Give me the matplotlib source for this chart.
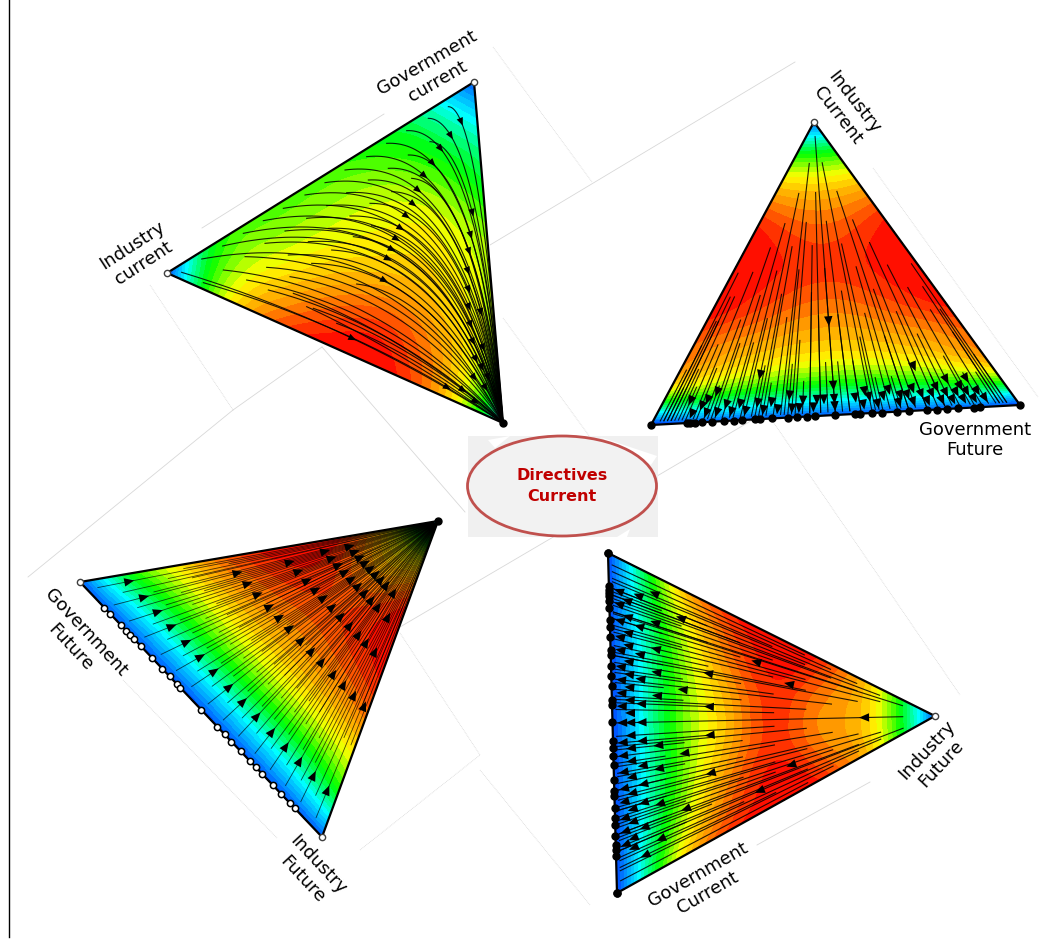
import matplotlib
matplotlib.use("Agg")
import matplotlib.pyplot as plt
import matplotlib.tri as mtri
import numpy as np
from matplotlib.colors import LinearSegmentedColormap
from matplotlib.patches import Ellipse, Polygon, Rectangle

# triangle corners in image pixels: base start, base end, apex
corners_tl = [(167, 273), (503, 423), (474, 82)]
corners_tr = [(651, 425), (1020, 405), (814, 122)]
corners_bl = [(80, 582), (322, 837), (438, 521)]
corners_br = [(608, 553), (617, 893), (935, 716)]

# field values, rows go from base to apex
field_tl = [[.12, .62, .82, .90, .88, .70, .28],
            [.50, .65, .76, .82, .74, .54],
            [.54, .63, .69, .69, .60],
            [.54, .62, .65, .60],
            [.50, .54, .50],
            [.40, .38],
            [.14]]
field_tr = [[.10, .14, .14, .14, .14, .14, .14, .14, .10],
            [.66, .60, .56, .54, .54, .56, .60, .66],
            [.80, .75, .72, .71, .72, .75, .80],
            [.89, .84, .80, .80, .84, .89],
            [.90, .87, .85, .87, .90],
            [.89, .83, .83, .89],
            [.76, .73, .76],
            [.54, .54],
            [.15]]
field_bl = [[.14, .14, .14, .14, .14, .14, .14, .14, .14],
            [.46, .42, .41, .41, .41, .41, .42, .46],
            [.64, .62, .62, .62, .62, .62, .64],
            [.78, .76, .75, .75, .76, .78],
            [.87, .84, .82, .84, .87],
            [.90, .84, .84, .90],
            [.85, .74, .85],
            [.64, .64],
            [.25]]
field_br = [[.12, .12, .12, .12, .12, .12, .12, .12, .12],
            [.48, .43, .40, .40, .40, .40, .43, .48],
            [.74, .65, .61, .60, .61, .65, .74],
            [.86, .80, .75, .75, .80, .86],
            [.90, .87, .85, .87, .90],
            [.88, .80, .79, .88],
            [.76, .73, .76],
            [.54, .54],
            [.14]]

# end dots along each base, as a fraction of the edge
dots_tr = [0, .097, .106, .12, .138, .165, .197, .224, .246, .282, .295, .327, .372, .395, .422, .445,
           .499, .553, .567, .598, .625, .666, .698, .747, .774, .801, .833, .874, .892, 1]
dots_bl = [.10, .124, .168, .192, .208, .223, .251, .299, .34, .37, .401, .415, .50, .568, .598, .626,
           .664, .701, .726, .751, .797, .832, .867, .888]
dots_br = [0, .096, .108, .118, .127, .142, .162, .196, .218, .247, .284, .299, .331, .363, .392, .431, .446,
           .498, .554, .574, .598, .623, .667, .701, .716, .75, .779, .799, .833, .858, .873, .892, 1]

# radial lines: (fraction from base towards apex where the line stops, base positions)
lines_tr = [(.95, [.50]),
            (.86, [.35, .60]),
            (.76, [.27, .46, .70]),
            (.66, [.21, .38, .54, .75]),
            (.58, [.16, .30, .43, .62, .80]),
            (.50, [.03, .11, .24, .36, .50, .67, .84, .97]),
            (.42, [.05, .07, .19, .29, .43, .57, .72, .88, .95]),
            (.34, [.04, .05, .14, .25, .33, .46, .54, .65, .78, .92, .96]),
            (.26, [.03, .09, .17, .22, .39, .61, .70, .82, .95]),
            (.18, [.02, .06, .12, .28, .37, .48, .52, .57, .75, .87, .97]),
            (.12, [.04, .08, .15, .31, .41, .63, .68, .80, .90, .94])]
lines_bl = [(.03, [.03, .10, .165, .23, .30, .365, .43, .50, .565, .63, .70, .765, .83, .895, .96]),
            (.08, [.065, .13, .20, .265, .335, .40, .465, .535, .60, .665, .73, .80, .865, .93]),
            (.155, [.09, .15, .22, .28, .35, .42, .48, .55, .62, .68, .75, .82, .88]),
            (.22, [.05, .12, .18, .25, .32, .38, .45, .52, .58, .65, .72, .78, .85, .91]),
            (.28, [.02, .07, .14, .21, .27, .34, .41, .47, .54, .60, .67, .74, .80, .94, .98]),
            (.40, [.04, .11, .19, .30, .44, .57, .70, .96])]
lines_br = [(.90, [.175, .50, .84]),
            (.83, [.12, .23, .76, .88]),
            (.76, [.08, .17, .30, .70, .83, .91]),
            (.68, [.05, .13, .37, .63, .79, .94]),
            (.60, [.03, .10, .21, .29, .43, .57, .72, .87, .97]),
            (.50, [.07, .15, .25, .35, .46, .54, .65, .75, .81, .93]),
            (.40, [.12, .19, .32, .40, .60, .68, .78, .90]),
            (.30, [.10, .17, .27, .44, .56, .73, .85]),
            (.22, [.14, .22, .34, .42, .58, .66, .80, .88]),
            (.16, [.11, .19, .30, .38, .62, .70, .76, .83])]

# arrowheads: (fraction from base towards apex, base positions)
arrows_tr = [(.32, [.50]), (.15, [.27, .76]), (.10, [.15, .50, .84, .90]),
             (.075, [.08, .13, .37, .59, .66, .73, .80, .87]),
             (.055, [.12, .19, .23, .28, .32, .41, .45, .47, .50, .56, .60, .64, .69, .71,
                     .75, .78, .82, .85, .88, .91]),
             (.03, [.10, .14, .17, .21, .25, .30, .34, .38, .40, .44, .50, .58, .62, .68,
                    .72, .76, .80, .83, .86, .89, .92])]
arrows_bl = [(.12, [.03, .10, .165, .23, .30, .365, .43, .50, .565, .63, .70, .765, .83, .895, .96]),
             (.40, [.10, .17, .24, .32, .39, .46, .54, .61, .68, .76, .83, .90, .97]),
             (.55, [.12, .20, .28, .36, .43, .51, .59, .67, .75, .82, .90]),
             (.66, [.11, .19, .27, .35, .43, .51, .59, .67, .75, .87]),
             (.73, [.13, .21, .29, .37, .45, .53, .61, .69, .80])]
arrows_br = [(.78, [.50]), (.55, [.27, .80]), (.45, [.19, .88]),
             (.30, [.30, .44, .56, .72]), (.22, [.11, .38, .62, .83]),
             (.14, [.06, .16, .25, .33, .41, .58, .66, .78, .90]),
             (.09, [.09, .19, .28, .36, .44, .50, .56, .64, .70, .76, .84, .93]),
             (.055, [.12, .17, .22, .26, .31, .35, .39, .43, .47, .50, .54, .58, .62, .67, .72,
                     .77, .81, .86, .89]),
             (.03, [.10, .14, .19, .24, .28, .33, .37, .41, .45, .50, .56, .60, .65, .70, .74,
                    .79, .83, .87])]

# curved flow in the top left triangle, read at 3x from the crop at (150, 60)
curve_x0 = [895, 835, 770, 710, 650, 585, 525, 465, 400, 340, 280, 218, 155,
            840, 775, 715, 655, 590, 530, 470, 405, 345, 285, 220, 160, 95,
            785, 725, 660, 600, 535, 475, 415, 350, 290,
            665, 610, 545, 485, 420, 355, 620, 490, 560, 430, 470]
curve_y0 = [140, 175, 212, 250, 290, 330, 368, 405, 445, 482, 520, 558, 597,
            245, 285, 325, 360, 398, 437, 475, 513, 550, 590, 630, 668, 637,
            355, 395, 430, 468, 505, 545, 585, 622, 660,
            497, 530, 570, 610, 650, 690, 672, 745, 790, 700, 740]
curve_cx = [985, 985, 985, 985, 975, 965, 950, 930, 915, 900, 880, 860, 800,
            985, 980, 975, 960, 950, 930, 910, 890, 860, 790, 700, 650, 600,
            970, 960, 950, 930, 905, 880, 850, 790, 730,
            930, 910, 880, 850, 790, 740, 850, 790, 800, 760, 750]
curve_cy = [140, 175, 200, 235, 255, 280, 305, 330, 355, 375, 395, 410, 480,
            250, 280, 310, 345, 375, 400, 430, 460, 500, 600, 680, 810, 790,
            370, 400, 430, 460, 490, 520, 560, 650, 740,
            540, 565, 590, 620, 710, 790, 700, 850, 880, 820, 870]
# where the arrowhead sits on each curve, -1 means the curve has none
curve_arrow_t = [.22, .24, .26, .28, .30, .33, .36, .38, .40, .42, .44, .46, .50,
                 .50, .55, .58, .62, .66, .70, .74, .78, .82, .85, -1, .80, .52,
                 -1, .72, -1, .80, -1, .84, -1, -1, -1,
                 -1, .86, -1, .88, -1, -1, -1, .78, .84, -1, -1]

# faint leftovers of the ternary axes behind the triangles
guide_lines = [[(795, 62), (490, 245)], [(384, 114), (202, 228)], [(233, 410), (322, 347)],
               [(28, 577), (233, 410)], [(322, 347), (465, 512)], [(400, 627), (795, 395)],
               [(870, 782), (757, 845)]]
guide_dots = [[(493, 47), (592, 182)], [(873, 168), (1038, 397)], [(150, 285), (233, 410)],
              [(503, 318), (590, 437)], [(123, 680), (277, 838)], [(360, 850), (480, 755)],
              [(400, 633), (480, 755)], [(765, 410), (960, 695)], [(480, 770), (590, 905)]]

labels = ["Government\ncurrent", "Industry\ncurrent", "Industry\nCurrent", "Government\nFuture",
          "Government\nFuture", "Industry\nFuture", "Industry\nFuture", "Government\nCurrent"]
label_x = [432, 138, 846, 975, 78, 310, 934, 703]
label_y = [72, 254, 109, 440, 640, 872, 757, 884]
label_rot = [30, 33, -52, 0, -47, -47, 47, 30]

# rainbow with a pure green middle, as in the reference
field_cmap = LinearSegmentedColormap.from_list(
    "field", [(0, "#0000ff"), (.12, "#0040ff"), (.33, "#00ffff"), (.5, "#00ff00"), (.65, "#ffff00"),
              (.77, "#ff9000"), (.9, "#ff0000"), (1, "#ff0000")])

fig = plt.figure(figsize=(10.42, 9.40), dpi=100)
ax = fig.add_axes([0, 0, 1, 1])
ax.set_xlim(0, 1042)
ax.set_ylim(940, 0)
ax.axis("off")


def draw_field(corners, rows):
    p0, p1, p2 = [np.array(c, dtype=float) for c in corners]
    n = len(rows) - 1
    px, py, z = [], [], []
    for r, row in enumerate(rows):
        for j, v in enumerate(row):
            b = (n - r - j) / n * p0 + j / n * p1 + r / n * p2
            px.append(b[0])
            py.append(b[1])
            z.append(v)
    tri = mtri.Triangulation(px, py)
    rt, rz = mtri.UniformTriRefiner(tri).refine_field(np.array(z), subdiv=3)
    ax.tricontourf(rt, np.clip(rz, .11, .89), levels=np.linspace(.1, .9, 27), cmap=field_cmap,
                   vmin=0, vmax=1, zorder=2)
    ax.add_patch(Polygon(corners, closed=True, fill=False, ec="black", lw=1.6, zorder=6))


def arrow_head(p, d, size=10, width=4.2):
    d = d / np.hypot(*d)
    n = np.array([-d[1], d[0]])
    ax.add_patch(Polygon([p + d * size / 2, p - d * size / 2 + n * width, p - d * size / 2 - n * width],
                         closed=True, fc="black", ec="none", zorder=5))


def draw_radial(corners, lines, arrows, to_apex, lw=.8, alpha=.85):
    p0, p1, p2 = [np.array(c, dtype=float) for c in corners]
    for s, ts in lines:
        for t in ts:
            b = p0 + t * (p1 - p0)
            a = b + s * (p2 - b)
            tip = b + (p2 - b) * (.985 if to_apex else .012)
            ax.plot([a[0], tip[0]], [a[1], tip[1]], color="black", lw=lw, alpha=alpha, zorder=4)
    for f, ts in arrows:
        for t in ts:
            b = p0 + t * (p1 - p0)
            arrow_head(b + f * (p2 - b), (p2 - b) if to_apex else (b - p2))


for seg in guide_lines:
    ax.plot(*zip(*seg), color="#d8d8d8", lw=.6, zorder=1)
for seg in guide_dots:
    ax.plot(*zip(*seg), color="#d8d8d8", lw=.6, ls=(0, (1, 1)), zorder=1)
ax.plot([8.5, 8.5], [0, 937], color="black", lw=1, zorder=1)

draw_field(corners_tl, field_tl)
draw_field(corners_tr, field_tr)
draw_field(corners_bl, field_bl)
draw_field(corners_br, field_br)

# curved streamlines, all ending in the bottom right corner of the first triangle
end = np.array(corners_tl[1], dtype=float)
u = np.linspace(0, 1, 60)[:, None]
for x0, y0, cx, cy, at in zip(curve_x0, curve_y0, curve_cx, curve_cy, curve_arrow_t):
    p = np.array([150 + x0 / 3, 60 + y0 / 3])
    c = np.array([150 + cx / 3, 60 + cy / 3])
    xy = (1 - u) ** 2 * p + 2 * u * (1 - u) * c + u ** 2 * end
    ax.plot(xy[:, 0], xy[:, 1], color="black", lw=.8, alpha=.85, zorder=4)
    if at > 0:
        q = (1 - at) ** 2 * p + 2 * at * (1 - at) * c + at ** 2 * end
        arrow_head(q, 2 * (1 - at) * (c - p) + 2 * at * (end - c), size=8, width=3.3)

draw_radial(corners_tr, lines_tr, arrows_tr, False)
draw_radial(corners_bl, lines_bl, arrows_bl, True, lw=.6, alpha=.7)
draw_radial(corners_br, lines_br, arrows_br, False)

# end dots
for corners, dots in [(corners_tr, dots_tr), (corners_br, dots_br)]:
    p0, p1 = np.array(corners[0], dtype=float), np.array(corners[1], dtype=float)
    pts = np.array([p0 + t * (p1 - p0) for t in dots])
    ax.plot(pts[:, 0], pts[:, 1], "o", color="black", ms=5, zorder=7)
p0, p1 = np.array(corners_bl[0], dtype=float), np.array(corners_bl[1], dtype=float)
pts = np.array([p0 + t * (p1 - p0) for t in dots_bl])
ax.plot(pts[:, 0], pts[:, 1], "o", mfc="white", mec="black", mew=1.1, ms=4.5, zorder=7)

# open and filled corner markers
open_corners = [corners_tl[0], corners_tl[2], corners_tr[2], corners_bl[0], corners_bl[1], corners_br[2]]
filled_corners = [corners_tl[1], corners_bl[2], corners_br[0], corners_br[1]]
ax.plot(*zip(*open_corners), "o", mfc="white", mec="#404040", mew=1, ms=4.5, zorder=8)
ax.plot(*zip(*filled_corners), "o", color="black", ms=5, zorder=8)

for txt, x, y, rot in zip(labels, label_x, label_y, label_rot):
    ax.text(x, y, txt, rotation=rot, rotation_mode="anchor", ha="center", va="center",
            fontsize=13, color="black", linespacing=1.2, zorder=9)

# centre badge
ax.add_patch(Rectangle((468, 436), 190, 101, fc="#f0f0f0", ec="none", zorder=3))
for band in [[(488, 440), (510, 436), (495, 448)], [(600, 437), (657, 456), (651, 465)],
             [(617, 537), (630, 529), (627, 537)]]:
    ax.add_patch(Polygon(band, closed=True, fc="white", ec="none", zorder=3))
ax.add_patch(Ellipse((562, 486), 189, 100, fc="#f2f2f2", ec="#c0504d", lw=2, zorder=3))
ax.text(562, 486, "Directives\nCurrent", ha="center", va="center", fontsize=11.5, fontweight="bold",
        color="#c00000", linespacing=1.55, zorder=4)

fig.savefig("out.png", dpi=100)
